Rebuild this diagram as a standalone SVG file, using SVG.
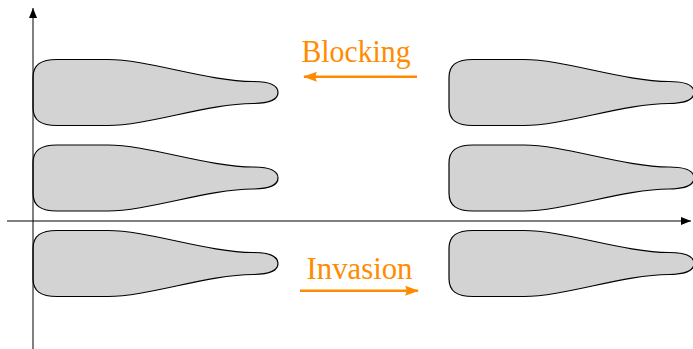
<svg xmlns="http://www.w3.org/2000/svg" width="693" height="349" viewBox="0 0 693 349">
<style>
.bottle{fill:#d3d3d3;stroke:#000;stroke-width:1.2}
.axis{stroke:#000;stroke-width:1;fill:none}
.orange{stroke:#ff8c00;stroke-width:2.6;fill:none}
.lbl{font-family:"Liberation Serif","DejaVu Serif",serif;font-size:31px;fill:#ff8c00}
</style>
<defs>
<path id="shape" d="M0,-15 C0,-28 8,-33 24,-33 L75,-33 C115,-33 175,-11 220,-11 C236,-11 245,-7 245,0 C245,7 236,11 220,11 C175,11 115,33 75,33 L24,33 C8,33 0,28 0,15 Z"/>
<marker id="ah" markerWidth="10" markerHeight="8" refX="10" refY="4" orient="auto" markerUnits="userSpaceOnUse">
<path d="M0,0 L10,4 L0,8 Z" fill="#000"/>
</marker>
<marker id="oh" markerWidth="14" markerHeight="10" refX="13" refY="5" orient="auto" markerUnits="userSpaceOnUse">
<path d="M0,0 L14,5 L0,10 Q3,5 0,0 Z" fill="#ff8c00"/>
</marker>
</defs>
<g id="left-top"><use href="#shape" class="bottle" transform="translate(33,92.5)"/></g>
<g id="left-middle"><use href="#shape" class="bottle" transform="translate(33,178)"/></g>
<g id="left-bottom"><use href="#shape" class="bottle" transform="translate(33,263.5)"/></g>
<g id="right-top"><use href="#shape" class="bottle" transform="translate(449,92.5)"/></g>
<g id="right-middle"><use href="#shape" class="bottle" transform="translate(449,178)"/></g>
<g id="right-bottom"><use href="#shape" class="bottle" transform="translate(449,263.5)"/></g>
<g id="connectors">
<line class="axis" x1="33" y1="349" x2="33" y2="8" marker-end="url(#ah)"/>
<line class="axis" x1="7" y1="221" x2="691" y2="221" marker-end="url(#ah)"/>
<line class="orange" x1="417" y1="76.7" x2="304" y2="76.7" marker-end="url(#oh)"/>
<line class="orange" x1="300" y1="290.7" x2="418" y2="290.7" marker-end="url(#oh)"/>
</g>
<g id="label-blocking"><text class="lbl" x="301.5" y="61.5" textLength="109" lengthAdjust="spacingAndGlyphs">Blocking</text></g>
<g id="label-invasion"><text class="lbl" x="306.5" y="279.3" textLength="106" lengthAdjust="spacingAndGlyphs">Invasion</text></g>
</svg>
